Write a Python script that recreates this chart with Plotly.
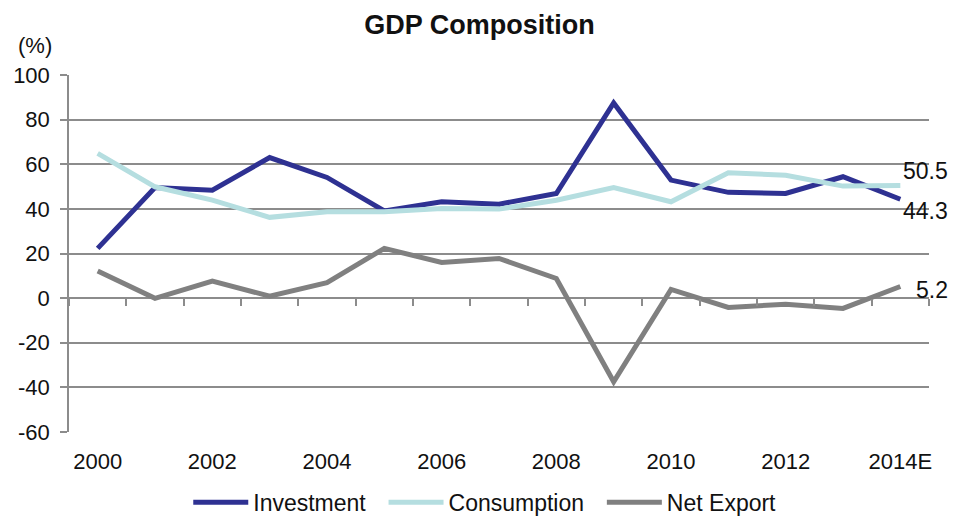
import plotly.graph_objects as go

years = ["2000", "2001", "2002", "2003", "2004", "2005", "2006", "2007",
         "2008", "2009", "2010", "2011", "2012", "2013", "2014E"]
investment = [22.3, 49.6, 48.4, 63.0, 54.1, 39.1, 43.2, 42.1, 46.9, 87.5, 52.9, 47.4, 46.9, 54.4, 44.3]
consumption = [64.9, 49.9, 43.9, 36.2, 38.7, 38.7, 40.2, 39.9, 43.9, 49.6, 43.2, 56.2, 55.1, 50.2, 50.5]
net_export = [12.2, -0.1, 7.6, 0.9, 6.9, 22.3, 16.0, 17.8, 8.8, -37.5, 3.9, -4.2, -2.7, -4.6, 5.2]
tick_years = years[::2]
y_ticks = [-60, -40, -20, 0, 20, 40, 60, 80, 100]
y_tick_text = [str(v) for v in y_ticks]

FONT = "Liberation Sans, Arial, sans-serif"
GRID = "#8c8c8c"
TXT = "#111111"
PAD = "\u00a0\u00a0"

fig = go.Figure()
series = [("Investment", investment, "#2E3192"),
          ("Consumption", consumption, "#B5DEE0"),
          ("Net Export", net_export, "#808080")]
for name, vals, col in series:
    fig.add_trace(go.Scatter(x=years, y=vals, name=name + PAD, mode="lines",
                             line=dict(color=col, width=5)))

# helper trace for tick marks on the zero line
fig.add_trace(go.Scatter(x=years, y=[None] * len(years), xaxis="x2", yaxis="y",
                         showlegend=False, hoverinfo="skip", mode="lines"))

# end labels
labels = [(consumption[-1], 14), (investment[-1], -12), (net_export[-1], -3)]
for val, ysh in labels:
    fig.add_annotation(x=years[-1], y=val, text=f"{val:.1f}", showarrow=False,
                       xanchor="right", yanchor="middle", xref="x", yref="y",
                       xshift=50, yshift=ysh, font=dict(size=23, color=TXT, family=FONT))

fig.add_annotation(x=-0.04, y=1.082, xref="paper", yref="paper", text="(%)",
                   showarrow=False, xanchor="center", yanchor="middle",
                   font=dict(size=22, color=TXT, family=FONT))

fig.update_layout(
    width=955, height=516,
    margin=dict(l=69, r=26, t=75, b=84, autoexpand=False),
    paper_bgcolor="white", plot_bgcolor="white",
    font=dict(family=FONT, size=22, color=TXT),
    title=dict(text="<b>GDP Composition</b>", x=0.502, xanchor="center",
               y=0.952, yanchor="middle", font=dict(size=27, family=FONT, color=TXT)),
    showlegend=True,
    legend=dict(orientation="h", x=0.491, xanchor="center", y=-0.197, yanchor="middle",
                font=dict(size=23, family=FONT, color=TXT), itemwidth=55,
                tracegroupgap=0, bgcolor="rgba(0,0,0,0)"),
    xaxis=dict(type="category", tickmode="array", tickvals=tick_years, ticktext=tick_years,
               showgrid=False, ticks="", showline=False, zeroline=False,
               range=[-0.5, len(years) - 0.5], tickfont=dict(size=22),
               ticklabelstandoff=14),
    xaxis2=dict(type="category", overlaying="x", anchor="free", position=0.375,
                range=[-0.5, len(years) - 0.5], showticklabels=False, ticks="outside",
                tickson="boundaries", ticklen=7, tickwidth=1.5, tickcolor=GRID,
                showgrid=False, showline=False, zeroline=False, side="bottom", dtick=1),
    yaxis=dict(range=[-60, 100], tickvals=y_ticks, ticktext=y_tick_text,
               showgrid=True, gridcolor=GRID,
               gridwidth=1.5, zeroline=False, showline=True, linecolor=GRID,
               linewidth=1.5, ticks="outside", ticklen=7, tickwidth=1.5, tickcolor=GRID,
               tickfont=dict(size=22), ticklabelstandoff=6),
)

fig.write_html("out.html")
